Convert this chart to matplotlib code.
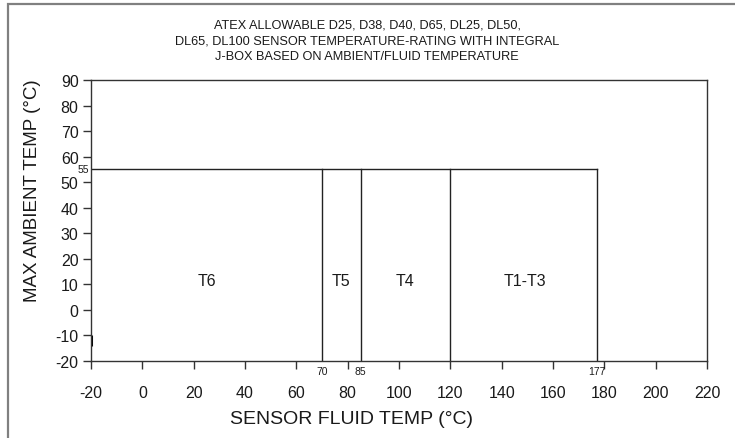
import matplotlib
matplotlib.use("Agg")
import matplotlib.pyplot as plt
from matplotlib.patches import Rectangle

# Data
boundaries = [70, 85, 120, 177]           # fluid temperature class limits (°C)
x_start = -20
max_ambient = 55
zone_labels = ["T6", "T5", "T4", "T1-T3"]
zone_label_x = [25, 77.5, 102.5, 149]
zone_label_y = 11.5
x_ticks = list(range(-20, 221, 20))
y_ticks = list(range(-20, 91, 10))
small_x_labels = ["70", "85", "177"]
small_x_pos = [70, 85, 177]
title_lines = ["ATEX ALLOWABLE D25, D38, D40, D65, DL25, DL50,",
               "DL65, DL100 SENSOR TEMPERATURE-RATING WITH INTEGRAL",
               "J-BOX BASED ON AMBIENT/FLUID TEMPERATURE"]

plt.rcParams['font.family'] = ['Liberation Sans', 'DejaVu Sans']
plt.rcParams['axes.unicode_minus'] = False

fig = plt.figure(figsize=(7.35, 4.39), dpi=100)
ax = fig.add_axes([91/735, 1-362/439, (707-91)/735, (362-81)/439])

lc = '#222222'
tc = '#1a1a1a'
# horizontal line at 55
ax.plot([x_start, boundaries[-1]], [max_ambient, max_ambient], color=lc, lw=1.0)
for b in boundaries:
    ax.plot([b, b], [-20, max_ambient], color=lc, lw=1.0)
# small thick artifact on left spine
ax.plot([-20, -20], [-10, -14], color='black', lw=2.2, solid_capstyle='butt')

ax.set_xlim(-20, 220)
ax.set_ylim(-20, 90)
ax.set_xticks(x_ticks)
ax.set_yticks(y_ticks)
for s in ax.spines.values():
    s.set_color('#333333')
    s.set_linewidth(1.0)
ax.tick_params(direction='out', length=6, width=1.0, color='#333333',
               labelsize=11.5, labelcolor=tc)
ax.tick_params(axis='x', pad=11)
ax.tick_params(axis='y', pad=3)

for lab, xv in zip(zone_labels, zone_label_x):
    ax.text(xv, zone_label_y, lab, ha='center', va='center', fontsize=11.5, color=tc)

for lab, xv in zip(small_x_labels, small_x_pos):
    ax.text(xv, -21.8, lab, ha='center', va='top', fontsize=7.5, color=tc)
ax.text(-20.8, max_ambient, str(max_ambient), ha='right', va='center', fontsize=7.5, color=tc)

fig.text(352/735, 1-420/439, "SENSOR FLUID TEMP (°C)", ha='center', va='center',
         fontsize=14, color=tc)
fig.text(33/735, 1-191/439, "MAX AMBIENT TEMP (°C)", ha='center', va='center',
         rotation=90, fontsize=13.5, color=tc)

for i, line in enumerate(title_lines):
    fig.text(367/735, 1-(25+16*i)/439, line, ha='center', va='center',
             fontsize=9.2, color=tc)

# outer frame
fig.patches.append(Rectangle((8/735, -0.05), 1.0, 1-5/439+0.05, transform=fig.transFigure,
                             fill=False, edgecolor='#808080', lw=1.6))

fig.savefig("out.png", dpi=100)
